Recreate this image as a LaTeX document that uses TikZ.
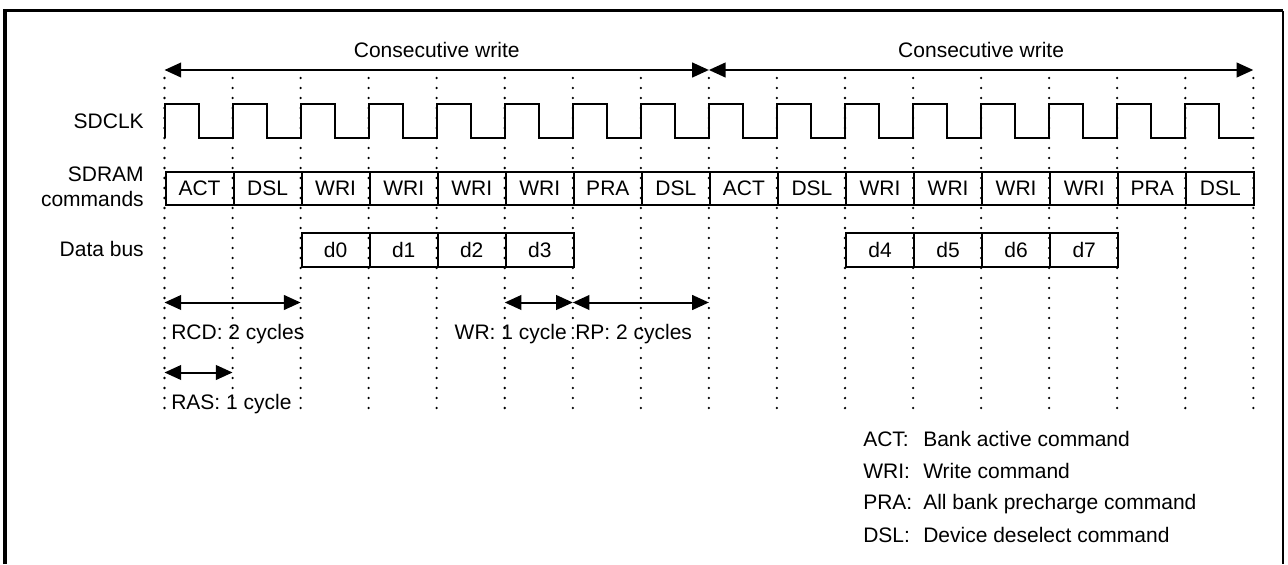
\documentclass[tikz,border=0pt]{standalone}
\usepackage{fontspec}
\setmainfont{Liberation Sans}
\usetikzlibrary{arrows.meta}
\begin{document}
\begin{tikzpicture}[x=0.75pt,y=-0.75pt,
  every node/.style={font=\fontsize{15.75}{18.75}\selectfont, inner sep=0pt},
  sig/.style={line width=1.5pt, line join=miter},
  gridline/.style={line width=1.9pt, line cap=round, dash pattern=on 0pt off 7.5pt},
  dim/.style={line width=1.5pt, {Triangle[length=12.5pt,width=11pt]}-{Triangle[length=12.5pt,width=11pt]}},
  cell/.style={draw, line width=1.5pt, minimum width=51.04pt, minimum height=24.75pt, anchor=west},
  lbl/.style={anchor=base west},
  rowlbl/.style={anchor=base east}
]
\useasboundingbox (0,0) rectangle (1288,564);
% frame
\draw[line width=2.5pt] (5,564) -- (5,10.7) -- (1283.3,10.7);
\draw[line width=1.5pt] (1283.3,10.7) -- (1283.3,564);
% grid coordinates and dotted lines
\foreach \i in {0,...,16} {
  \coordinate (gt\i) at ({164.5+68.05*\i},78);
  \coordinate (gb\i) at ({164.5+68.05*\i},415);
  \draw[gridline] (gt\i) -- (gb\i);
}
% consecutive write arrows
\coordinate (t0) at (164.5,70);
\coordinate (t8) at ({164.5+68.05*8},70);
\coordinate (t16) at ({164.5+68.05*16},70);
\draw[dim] (t0) -- (t8);
\draw[dim] (t8) -- (t16);
\node[anchor=base] (cw1) at ({164.5+68.05*4},57) {Consecutive write};
\node[anchor=base] (cw2) at ({164.5+68.05*12},57) {Consecutive write};
% row labels
\node[rowlbl] (lclk) at (144,128) {SDCLK};
\node[anchor=east, align=right] (lcmd) at (144,186.8) {SDRAM\\commands};
\node[rowlbl] (ldata) at (144,256) {Data bus};
% clock
\draw[sig] (164.5,138) \foreach \i in {0,...,15} {
  -- ({164.5+68.05*\i},104) -- ({164.5+68.05*\i+34.025},104)
  -- ({164.5+68.05*\i+34.025},138) -- ({164.5+68.05*(\i+1)},138) };
% commands
\foreach \t [count=\i from 0] in {ACT,DSL,WRI,WRI,WRI,WRI,PRA,DSL,ACT,DSL,WRI,WRI,WRI,WRI,PRA,DSL}
  \node[cell] (c\i) at ({164.5+68.05*\i},188.5) {\t};
% data bus
\foreach \i/\d in {2/0,3/1,4/2,5/3,10/4,11/5,12/6,13/7}
  \node[cell, minimum height=25.5pt] (d\d) at ({164.5+68.05*\i},250) {d\d};
% timing arrows
\coordinate (rcd0) at (164.5,302.5);
\coordinate (rcd1) at ({164.5+68.05*2},302.5);
\draw[dim] (rcd0) -- (rcd1);
\node[lbl] (rcdl) at (171,339) {RCD: 2 cycles};
\coordinate (ras0) at (164.5,372.5);
\coordinate (ras1) at ({164.5+68.05},372.5);
\draw[dim] (ras0) -- (ras1);
\node[lbl] (rasl) at (171,409.5) {RAS: 1 cycle};
\coordinate (wr0) at ({164.5+68.05*5},302.5);
\coordinate (wr1) at ({164.5+68.05*6},302.5);
\draw[dim] (wr0) -- (wr1);
\node[anchor=base east] (wrl) at (567,339) {WR: 1 cycle};
\coordinate (rp1) at ({164.5+68.05*8},302.5);
\draw[dim] (wr1) -- (rp1);
\node[lbl] (rpl) at (575,339) {RP: 2 cycles};
% legend
\foreach \a/\b/\y [count=\k] in {ACT:/Bank active command/446, WRI:/Write command/478, PRA:/All bank precharge command/509.5, DSL:/Device deselect command/542} {
  \node[lbl] (la\k) at (863,\y) {\a};
  \node[lbl] (lb\k) at (923,\y) {\b};
}
\end{tikzpicture}
\end{document}
